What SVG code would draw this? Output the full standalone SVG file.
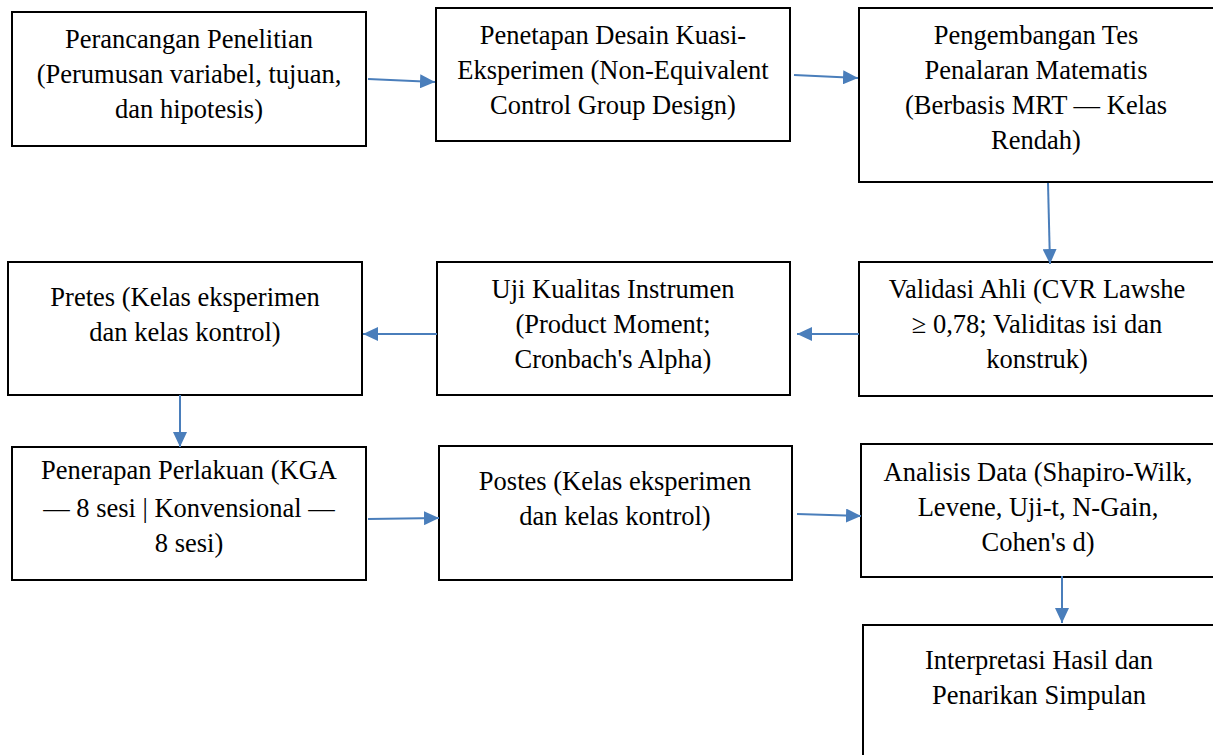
<svg xmlns="http://www.w3.org/2000/svg" width="1213" height="755" viewBox="0 0 1213 755">
<style>
.box{fill:#fff;stroke:#000;stroke-width:2}
.t{font-family:"Liberation Serif","Times New Roman",serif;font-size:26.5px;fill:#000;text-anchor:middle}
.c{stroke:#4a7ebb;stroke-width:2;fill:none;marker-end:url(#ah)}
</style>
<defs>
<marker id="ah" markerUnits="userSpaceOnUse" markerWidth="16" markerHeight="14" refX="15" refY="7" orient="auto">
<path d="M0,0 L15,7 L0,14 Z" fill="#4a7ebb"/>
</marker>
</defs>
<rect width="1213" height="755" fill="#fff"/>
<g id="n1"><rect class="box" x="12" y="12" width="354" height="134"/>
<text class="t" x="189" y="48">Perancangan Penelitian</text>
<text class="t" x="189" y="83">(Perumusan variabel, tujuan,</text>
<text class="t" x="189" y="118">dan hipotesis)</text></g>
<g id="n2"><rect class="box" x="436" y="8" width="354" height="133"/>
<text class="t" x="613" y="44">Penetapan Desain Kuasi-</text>
<text class="t" x="613" y="79">Eksperimen (Non-Equivalent</text>
<text class="t" x="613" y="114">Control Group Design)</text></g>
<g id="n3"><rect class="box" x="859" y="8" width="356" height="174"/>
<text class="t" x="1036" y="44">Pengembangan Tes</text>
<text class="t" x="1036" y="79">Penalaran Matematis</text>
<text class="t" x="1036" y="114">(Berbasis MRT — Kelas</text>
<text class="t" x="1036" y="149">Rendah)</text></g>
<g id="n4"><rect class="box" x="859" y="262" width="356" height="134"/>
<text class="t" x="1037" y="298">Validasi Ahli (CVR Lawshe</text>
<text class="t" x="1037" y="333">≥ 0,78; Validitas isi dan</text>
<text class="t" x="1037" y="368">konstruk)</text></g>
<g id="n5"><rect class="box" x="437" y="262" width="353" height="133"/>
<text class="t" x="613" y="298">Uji Kualitas Instrumen</text>
<text class="t" x="613" y="333">(Product Moment;</text>
<text class="t" x="613" y="368">Cronbach's Alpha)</text></g>
<g id="n6"><rect class="box" x="8" y="262" width="354" height="133"/>
<text class="t" x="185" y="306">Pretes (Kelas eksperimen</text>
<text class="t" x="185" y="341">dan kelas kontrol)</text></g>
<g id="n7"><rect class="box" x="12" y="447" width="354" height="133"/>
<text class="t" x="189" y="479">Penerapan Perlakuan (KGA</text>
<text class="t" x="189" y="517">— 8 sesi | Konvensional —</text>
<text class="t" x="189" y="552">8 sesi)</text></g>
<g id="n8"><rect class="box" x="439" y="446" width="353" height="134"/>
<text class="t" x="615" y="490">Postes (Kelas eksperimen</text>
<text class="t" x="615" y="525">dan kelas kontrol)</text></g>
<g id="n9"><rect class="box" x="861" y="444" width="354" height="133"/>
<text class="t" x="1038" y="481">Analisis Data (Shapiro-Wilk,</text>
<text class="t" x="1038" y="516">Levene, Uji-t, N-Gain,</text>
<text class="t" x="1038" y="551">Cohen's d)</text></g>
<g id="n10"><rect class="box" x="863" y="625" width="352" height="140"/>
<text class="t" x="1039" y="669">Interpretasi Hasil dan</text>
<text class="t" x="1039" y="704">Penarikan Simpulan</text></g>
<g id="connectors">
<line class="c" x1="368" y1="79" x2="435" y2="82"/>
<line class="c" x1="794" y1="75" x2="858" y2="78"/>
<line class="c" x1="1048" y1="183" x2="1050" y2="264"/>
<line class="c" x1="859" y1="334" x2="797" y2="334"/>
<line class="c" x1="437" y1="334" x2="363" y2="334"/>
<line class="c" x1="180" y1="395" x2="180" y2="447"/>
<line class="c" x1="368" y1="519" x2="439" y2="518"/>
<line class="c" x1="797" y1="514" x2="861" y2="516"/>
<line class="c" x1="1062" y1="576" x2="1062" y2="623"/>
</g>
</svg>
